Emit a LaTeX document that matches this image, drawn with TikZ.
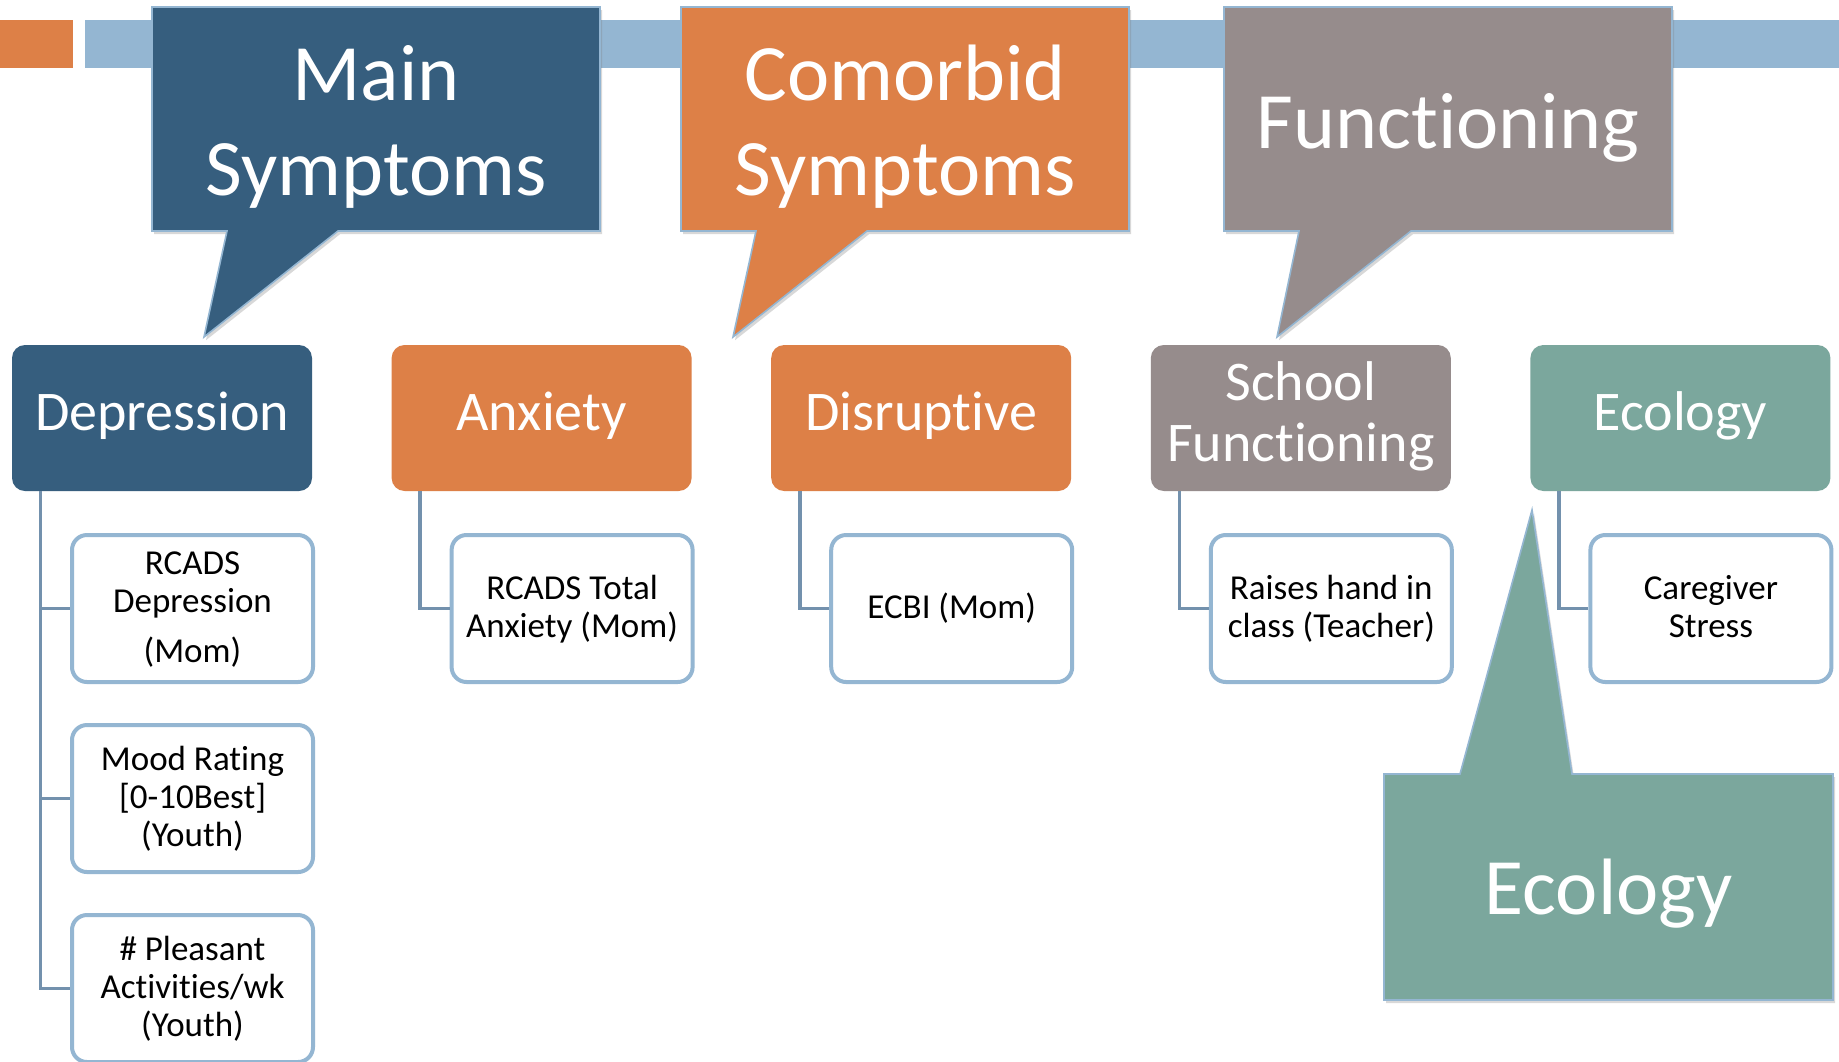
\documentclass[tikz,border=0pt]{standalone}
\usepackage{fontspec}
\setmainfont{Carlito}[Ligatures={NoCommon}]
\usetikzlibrary{shadows}
\definecolor{cBlue}{HTML}{365E7E}
\definecolor{cOrange}{HTML}{DD8047}
\definecolor{cGray}{HTML}{968C8C}
\definecolor{cTeal}{HTML}{7BA79D}
\definecolor{cBar}{HTML}{94B6D2}
\definecolor{cLine}{HTML}{7391AD}
\definecolor{cBorder}{HTML}{94B6D2}
\newcommand\catstr{\rule[-6.5pt]{0pt}{24pt}}
\newcommand\schstr{\rule[-6.5pt]{0pt}{25pt}}
\newcommand\chstr{\rule[-3.5pt]{0pt}{16.8pt}}
\newcommand\calstr{\rule[-10pt]{0pt}{30pt}}
\newcommand\nolsl{\lineskiplimit-100pt\relax}
\begin{document}
\begin{tikzpicture}[x=0.5pt,y=-0.5pt,
  callout/.style={draw=cBorder, line width=0.8pt, drop shadow={shadow xshift=1pt, shadow yshift=-1.6pt, opacity=0.3}},
  callouttext/.style={text=white, align=center, font={\fontsize{40}{47.5}\selectfont\nolsl}, inner sep=0pt},
  cat/.style={rounded corners=6.5pt, minimum width=150pt, minimum height=73pt, inner sep=0pt, text=white, align=center, font={\fontsize{28}{30.5}\selectfont\nolsl}},
  child/.style={draw=cBorder, line width=2pt, fill=white, rounded corners=7.5pt, minimum width=120.5pt, minimum height=73.5pt, inner sep=0pt, align=center, font={\fontsize{17.5}{19}\selectfont\nolsl}},
  conn/.style={draw=cLine, line width=1.8pt},
]
\useasboundingbox (0,0) rectangle (1839,1061);
\fill[white] (0,0) rectangle (1839,1061);
% top bar
\fill[cBar] (85,20) rectangle (1839,68);
\fill[cOrange] (0,20) rectangle (73,68);
% callouts
\path[fill=cBlue, callout] (152,7) -- (600,7) -- (600,231) -- (338,231) -- (204,337) -- (227,231) -- (152,231) -- cycle;
\node[callouttext] (tMain) at (376,130) {\calstr Main\\\calstr Symptoms};
\path[fill=cOrange, callout] (681,7) -- (1129,7) -- (1129,231) -- (867,231) -- (733,337) -- (756,231) -- (681,231) -- cycle;
\node[callouttext] (tCom) at (905,130) {\calstr Comorbid\\\calstr Symptoms};
\path[fill=cGray, callout] (1224,7) -- (1672,7) -- (1672,231) -- (1411,231) -- (1277,337) -- (1299,231) -- (1224,231) -- cycle;
\node[callouttext, anchor=base] (tFun) at (1448,148) {Functioning};
% categories
\node[cat, fill=cBlue] (dep) at (162,418) {\catstr Depression};
\node[cat, fill=cOrange] (anx) at (541.6,418) {\catstr Anxiety};
\node[cat, fill=cOrange] (dis) at (921.2,418) {\catstr Disruptive};
\node[cat, fill=cGray] (sch) at (1300.8,418) {\schstr School\\\schstr Functioning};
\node[cat, fill=cTeal] (eco) at (1680.4,418) {\catstr Ecology};
% children
\node[child] (d1) at (192.5,608.5) {\chstr RCADS\\\chstr Depression\\[6pt]\chstr (Mom)};
\node[child] (d2) at (192.5,798.5) {\chstr Mood Rating\\\chstr [0-10Best]\\\chstr (Youth)};
\node[child] (d3) at (192.5,988.5) {\chstr \# Pleasant\\\chstr Activities/wk\\\chstr (Youth)};
\node[child] (a1) at (572.1,608.5) {\chstr RCADS Total\\\chstr Anxiety (Mom)};
\node[child] (b1) at (951.7,608.5) {\chstr ECBI (Mom)};
\node[child] (s1) at (1331.3,608.5) {\chstr Raises hand in\\\chstr class (Teacher)};
\node[child] (e1) at (1710.9,608.5) {\chstr Caregiver\\\chstr Stress};
% connectors
\draw[conn] ([xshift=14.5pt]dep.south west) |- (d3.west);
\draw[conn] ([xshift=14.5pt]dep.south west) |- (d2.west);
\draw[conn] ([xshift=14.5pt]dep.south west) |- (d1.west);
\draw[conn] ([xshift=14.5pt]anx.south west) |- (a1.west);
\draw[conn] ([xshift=14.5pt]dis.south west) |- (b1.west);
\draw[conn] ([xshift=14.5pt]sch.south west) |- (s1.west);
\draw[conn] ([xshift=14.5pt]eco.south west) |- (e1.west);
% ecology callout
\path[fill=cTeal, callout] (1384,774) -- (1460,774) -- (1532,510) -- (1572,774) -- (1833,774) -- (1833,1000) -- (1384,1000) -- cycle;
\node[callouttext, anchor=base] (tEco) at (1608.5,914) {Ecology};
\end{tikzpicture}
\end{document}
